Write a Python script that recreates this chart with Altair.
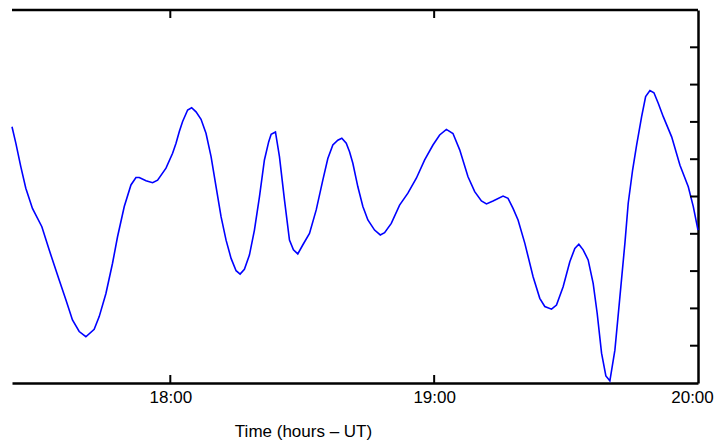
import altair as alt
import pandas as pd

# time in minutes after 17:00 UT
minutes = [24.0, 24.87, 26.0, 27.14, 28.65, 30.79, 32.45, 34.73, 36.25, 37.75,
           39.28, 40.8, 42.69, 43.83, 45.36, 46.86, 48.0, 49.53, 51.05, 52.19,
           52.94, 54.47, 55.97, 57.11, 59.02, 60.52, 61.3, 62.05, 62.8, 63.94,
           64.85, 65.85, 66.99, 68.13, 69.27, 70.41, 71.54, 72.68, 73.82, 74.96,
           75.87, 76.85, 77.99, 79.13, 80.27, 81.4, 82.38, 82.93, 83.91, 84.82,
           85.96, 87.1, 88.0, 88.99, 90.12, 91.65, 93.18, 94.68, 95.82, 96.96,
           98.09, 99.0, 100.01, 100.76, 101.51, 102.65, 103.79, 104.93, 106.45, 107.75,
           108.73, 110.25, 112.14, 114.03, 115.95, 117.84, 119.73, 121.25, 122.78, 124.28,
           125.81, 127.7, 129.22, 130.75, 131.89, 133.39, 135.67, 136.8, 137.94, 139.08,
           140.61, 142.5, 144.02, 145.16, 146.69, 147.82, 149.33, 150.85, 151.99, 152.9,
           153.88, 155.02, 156.16, 157.07, 158.07, 159.05, 159.96, 161.1, 162.24, 163.38,
           164.13, 165.13, 166.04, 167.18, 168.09, 169.07, 169.98, 170.96, 172.1, 174.01,
           175.9, 177.79, 178.93, 180.0]
values = [6.87, 6.43, 5.80, 5.22, 4.68, 4.19, 3.57, 2.76, 2.23, 1.69,
          1.38, 1.24, 1.44, 1.78, 2.40, 3.21, 3.92, 4.73, 5.31, 5.51,
          5.51, 5.42, 5.37, 5.44, 5.76, 6.16, 6.43, 6.74, 7.01, 7.32,
          7.38, 7.27, 7.07, 6.69, 6.07, 5.26, 4.46, 3.83, 3.34, 3.01,
          2.92, 3.05, 3.43, 4.10, 4.99, 5.98, 6.47, 6.67, 6.73, 6.07,
          4.91, 3.83, 3.57, 3.46, 3.70, 4.01, 4.64, 5.44, 6.02, 6.38,
          6.51, 6.56, 6.43, 6.20, 5.89, 5.26, 4.73, 4.37, 4.10, 3.97,
          4.03, 4.28, 4.77, 5.09, 5.49, 5.98, 6.38, 6.65, 6.80, 6.69,
          6.25, 5.53, 5.13, 4.88, 4.80, 4.88, 5.01, 4.95, 4.68, 4.37,
          3.75, 2.85, 2.27, 2.05, 1.98, 2.09, 2.58, 3.25, 3.61, 3.72,
          3.57, 3.30, 2.67, 1.87, 0.80, 0.19, 0.06, 0.88, 2.31, 3.75,
          4.82, 5.71, 6.38, 7.14, 7.68, 7.84, 7.78, 7.50, 7.14, 6.60,
          5.84, 5.26, 4.73, 4.10]

x_tick_values = [60, 120, 180]
x_tick_labels = ["18:00", "19:00", "20:00"]
inner_x_ticks = [60, 120]
y_ticks = [1, 2, 3, 4, 5, 6, 7, 8, 9]
x_domain = [24, 180]
y_domain = [0, 10]

W, H = 686, 373
FONT = "Liberation Sans"
FRAME = 2.5

df = pd.DataFrame({"t": minutes, "v": values})
label_expr = " : ".join(
    f"datum.value == {v} ? '{l}'" for v, l in zip(x_tick_values, x_tick_labels)
) + " : ''"

xscale = alt.Scale(domain=x_domain, nice=False, zero=False)
yscale = alt.Scale(domain=y_domain, nice=False, zero=False)

line = alt.Chart(df).mark_line(color="#0000ff", strokeWidth=1.6).encode(
    x=alt.X("t:Q", scale=xscale,
            axis=alt.Axis(orient="bottom", values=x_tick_values, labelExpr=label_expr,
                          ticks=False, grid=False, domain=True, domainColor="black",
                          domainWidth=FRAME, labelFont=FONT, labelFontSize=17,
                          labelColor="black", labelPadding=6, labelFlush=False,
                          labelOffset={"expr": f"datum.value == {x_tick_values[-1]} ? -6 : 0"},
                          title="Time (hours – UT)", titleFont=FONT, titleFontSize=17,
                          titleFontWeight="normal", titleColor="black",
                          titleX=291, titleY=53, titleAlign="center",
                          titleBaseline="alphabetic")),
    y=alt.Y("v:Q", scale=yscale,
            axis=alt.Axis(orient="right", labels=False, ticks=False, grid=False,
                          domain=True, domainColor="black", domainWidth=FRAME,
                          title=None)),
)

top = alt.Chart(pd.DataFrame({"a": [0]})).mark_rule(color="black", strokeWidth=FRAME).encode(
    x=alt.value(0), x2=alt.value(W), y=alt.value(0)
)

xt = pd.DataFrame({"t": inner_x_ticks})
bottom_ticks = alt.Chart(xt).mark_rule(color="black", strokeWidth=2).encode(
    x=alt.X("t:Q"), y=alt.value(H), y2=alt.value(H - 8)
)
top_ticks = alt.Chart(xt).mark_rule(color="black", strokeWidth=2).encode(
    x=alt.X("t:Q"), y=alt.value(0), y2=alt.value(8)
)
right_ticks = alt.Chart(pd.DataFrame({"v": y_ticks})).mark_rule(color="black", strokeWidth=2).encode(
    y=alt.Y("v:Q"), x=alt.value(W - 8), x2=alt.value(W)
)

chart = alt.layer(line, top, bottom_ticks, top_ticks, right_ticks).properties(
    width=W, height=H,
    autosize=alt.AutoSizeParams(type="none"),
    padding={"left": 4, "top": 2, "right": 16, "bottom": 57},
    background="white",
).configure_view(strokeWidth=0)

chart.save("out.html", embed_options={"renderer": "svg", "actions": False})
